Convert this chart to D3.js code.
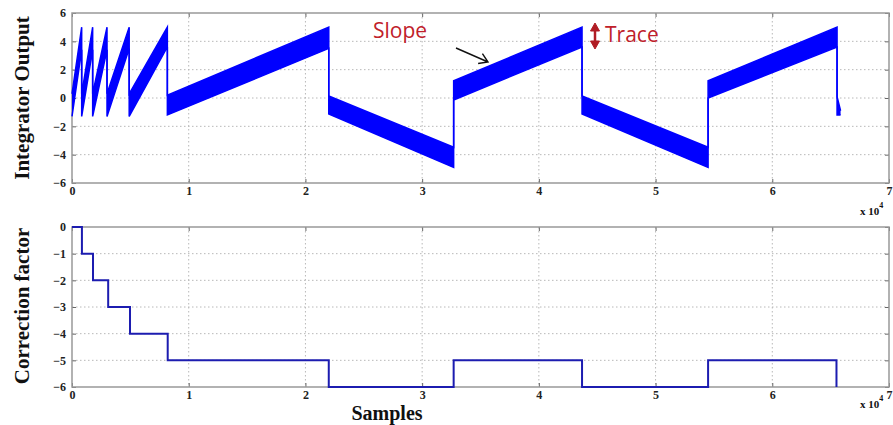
<!DOCTYPE html>
<html lang="en">
<head>
<meta charset="UTF-8">
<title>Integrator output and correction factor</title>
<script src="https://cdn.jsdelivr.net/npm/d3@7/dist/d3.min.js"></script>
<style>
    body {
        margin: 0;
        background: #fff;
    }

    svg {
        display: block;
    }

    .tick text {
        font-family: "Liberation Serif", "DejaVu Serif", serif;
        font-weight: bold;
        font-size: 12px;
        fill: #222;
    }

    .tick line {
        stroke: #666;
    }

    .domain {
        display: none;
    }

    .grid line {
        stroke: #b8b8b8;
        stroke-width: 1;
        stroke-dasharray: 1.5, 2.5;
    }

    .frame {
        fill: none;
        stroke: #999;
        stroke-width: 1.5;
    }

    .label {
        font-family: "Liberation Serif", "DejaVu Serif", serif;
        font-weight: bold;
        fill: #111;
    }

    .note {
        font-family: "Open Sans", "Liberation Sans", sans-serif;
        font-size: 21px;
        fill: #c0202a;
    }
</style>
</head>
<body>
<script>
    // x axis in units of 1e4 samples
    const xTicks = [0, 1, 2, 3, 4, 5, 6, 7];
    const yTicksTop = [-6, -4, -2, 0, 2, 4, 6];
    const yTicksBottom = [0, -1, -2, -3, -4, -5, -6];

    // integrator output band: corner points (same x twice = reset jump)
    const bandX = [0, 0.083, 0.083, 0.177, 0.177, 0.30, 0.30, 0.49, 0.49, 0.817, 0.817,
        2.2, 2.2, 3.27, 3.27, 4.37, 4.37, 5.45, 5.45, 6.555, 6.555, 6.585];
    const bandHi = [0.3, 5, 0.3, 5, 0.3, 5, 0.3, 5, 0.3, 5, 0.2,
        5, 0.14, -3.48, 1.22, 5, 0.14, -3.48, 1.22, 5, 0.1, -0.9];
    const bandLo = [-1.3, 3.4, -1.3, 3.4, -1.3, 3.4, -1.3, 3.5, -1.3, 3.6, -1.2,
        3.5, -1.13, -4.9, -0.14, 3.6, -1.13, -4.9, 0.0, 3.6, -1.2, -1.2];

    // correction factor steps
    const corrX = [0, 0.085, 0.18, 0.31, 0.497, 0.82, 2.2, 3.27, 4.37, 5.45, 6.55];
    const corrVal = [0, -1, -2, -3, -4, -5, -6, -5, -6, -5, -6];

    const width = 893;
    const height = 425;
    const left = 72, right = 889;

    const svg = d3.select("body").append("svg")
        .attr("width", width)
        .attr("height", height);

    const x = d3.scaleLinear().domain([0, 7]).range([left, right]);
    const yTop = d3.scaleLinear().domain([-6, 6]).range([183, 13]);
    const yBot = d3.scaleLinear().domain([-6, 0]).range([387, 227]);

    //坐标轴 + 网格
    function drawPanel(y, yTicks, name, multY) {
        const g = svg.append("g").attr("class", name);
        const [y0, y1] = y.range();

        // dotted grid
        const grid = g.append("g").attr("class", "grid");
        grid.selectAll("line.v")
            .data(xTicks.slice(1, -1))
            .enter().append("line")
            .attr("x1", d => x(d)).attr("x2", d => x(d))
            .attr("y1", y1).attr("y2", y0);
        grid.selectAll("line.h")
            .data(yTicks.filter(d => d !== y.domain()[0] && d !== y.domain()[1]))
            .enter().append("line")
            .attr("x1", left).attr("x2", right)
            .attr("y1", d => y(d)).attr("y2", d => y(d));

        // ticks pointing inward, matlab style
        g.append("g")
            .attr("transform", `translate(0,${y0})`)
            .call(d3.axisBottom(x).tickValues(xTicks).tickSize(-4).tickPadding(3).tickFormat(d3.format("d")));
        g.append("g")
            .attr("transform", `translate(0,${y1})`)
            .call(d3.axisTop(x).tickValues(xTicks).tickSize(-4).tickFormat(""));
        g.append("g")
            .attr("transform", `translate(${left},0)`)
            .call(d3.axisLeft(y).tickValues(yTicks).tickSize(-4).tickPadding(6).tickFormat(d3.format("d")));
        g.append("g")
            .attr("transform", `translate(${right},0)`)
            .call(d3.axisRight(y).tickValues(yTicks).tickSize(-4).tickFormat(""));

        g.append("rect")
            .attr("class", "frame")
            .attr("x", left).attr("y", y1)
            .attr("width", right - left).attr("height", y0 - y1);

        // x 10^4 multiplier
        const m = g.append("text").attr("class", "label")
            .attr("x", right - 29).attr("y", y0 + multY)
            .style("font-size", "11px");
        m.append("tspan").text("x 10");
        m.append("tspan").attr("dy", -7).style("font-size", "8px").text("4");

        return g;
    }

    drawPanel(yTop, yTicksTop, "top", 32);
    drawPanel(yBot, yTicksBottom, "bottom", 21);

    //积分输出带
    const band = bandX.map((d, i) => ({x: d, hi: bandHi[i], lo: bandLo[i]}));

    const area = d3.area()
        .x(d => x(d.x))
        .y0(d => yTop(d.lo))
        .y1(d => yTop(d.hi));

    svg.append("path")
        .datum(band)
        .attr("fill", "#0000ff")
        .attr("d", area);

    ["hi", "lo"].forEach(k => {
        svg.append("path")
            .datum(band)
            .attr("fill", "none")
            .attr("stroke", "#0000ff")
            .attr("stroke-width", 1.5)
            .attr("d", d3.line().x(d => x(d.x)).y(d => yTop(d[k])));
    });

    //修正因子阶梯
    const corr = corrX.map((d, i) => ({x: d, v: corrVal[i]}));
    svg.append("path")
        .datum(corr)
        .attr("fill", "none")
        .attr("stroke", "#1c1cb0")
        .attr("stroke-width", 2)
        .attr("d", d3.line().curve(d3.curveStepAfter).x(d => x(d.x)).y(d => yBot(d.v)));

    // axis titles
    svg.append("text").attr("class", "label")
        .attr("transform", "translate(29,98) rotate(-90)")
        .attr("text-anchor", "middle")
        .style("font-size", "21px")
        .text("Integrator Output");
    svg.append("text").attr("class", "label")
        .attr("transform", "translate(29,306) rotate(-90)")
        .attr("text-anchor", "middle")
        .style("font-size", "21px")
        .text("Correction factor");
    svg.append("text").attr("class", "label")
        .attr("x", 387).attr("y", 420)
        .attr("text-anchor", "middle")
        .style("font-size", "20px")
        .text("Samples");

    // annotations
    svg.append("text").attr("class", "note")
        .attr("x", 373).attr("y", 38)
        .text("Slope");
    svg.append("text").attr("class", "note")
        .attr("x", 605).attr("y", 42)
        .text("Trace");

    // slope arrow
    const a0 = [456, 48], a1 = [488, 62];
    const ang = Math.atan2(a1[1] - a0[1], a1[0] - a0[0]);
    const head = [ang + Math.PI * 0.82, ang - Math.PI * 0.82]
        .map(t => [a1[0] + 10 * Math.cos(t), a1[1] + 10 * Math.sin(t)]);
    svg.append("path")
        .attr("fill", "none")
        .attr("stroke", "#111")
        .attr("stroke-width", 1.4)
        .attr("d", `M${a0}L${a1}M${head[0]}L${a1}L${head[1]}`);

    // trace double arrow
    const tx = 595;
    svg.append("path")
        .attr("fill", "#b01c24")
        .attr("stroke", "#b01c24")
        .attr("stroke-width", 1)
        .attr("d", `M${tx},23L${tx + 4.5},31L${tx - 4.5},31Z M${tx},49L${tx + 4.5},41L${tx - 4.5},41Z`);
    svg.append("line")
        .attr("x1", tx).attr("x2", tx)
        .attr("y1", 30).attr("y2", 42)
        .attr("stroke", "#b01c24")
        .attr("stroke-width", 2.5);
</script>
</body>
</html>
